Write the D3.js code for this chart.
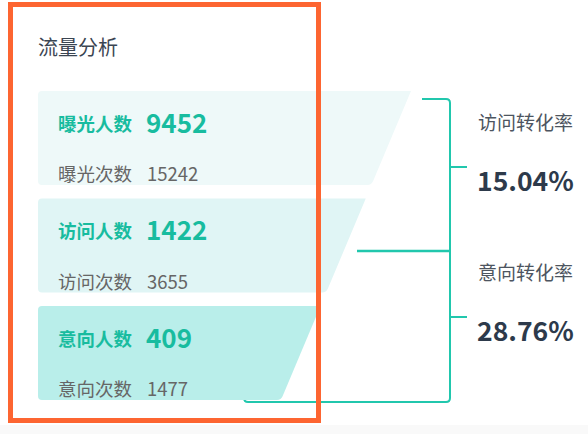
<!DOCTYPE html>
<html>
<head>
<meta charset="utf-8">
<script src="https://cdn.jsdelivr.net/npm/d3@7"></script>
<style>
  html, body { margin: 0; padding: 0; background: #fff; }
  svg { display: block; }
</style>
</head>
<body>
<div id="chart"></div>
<script>
'use strict';

// funnel stages
const stageLabels = ['曝光人数', '访问人数', '意向人数'];
const stageValues = [9452, 1422, 409];
const countLabels = ['曝光次数', '访问次数', '意向次数'];
const countValues = [15242, 3655, 1477];

// conversion between stages
const rateLabels = ['访问转化率', '意向转化率'];
const rateValues = [15.04, 28.76];

const title = '流量分析';

const width = 588;
const height = 434;
const font = '"Noto Sans CJK SC", "Noto Sans", sans-serif';
const teal = '#18bc9f';
const lineColor = '#21c7ad';
const bandColors = ['#eef9f9', '#e0f5f5', '#b9eeea'];

const svg = d3.select('#chart')
  .append('svg')
  .attr('width', width)
  .attr('height', height);

// faint floor at the bottom of the screenshot
svg.append('rect')
  .attr('x', 0).attr('y', 425)
  .attr('width', width).attr('height', height - 425)
  .attr('fill', '#f9f9f9');

const y = d3.scaleBand()
  .domain(d3.range(stageLabels.length))
  .range([91, 400])
  .paddingInner(0.1256);

// right edge of the funnel is one slanted line
const slant = d3.scaleLinear()
  .domain([91, 400])
  .range([411, 281]);

const left = 38;

/**
 * Path for one funnel band: rounded left corners, slanted right edge.
 */
function bandPath(i) {
  const top = y(i);
  const bot = top + y.bandwidth();
  const r = 4;
  const xt = slant(top);
  const xb = slant(bot);
  const k = (xt - xb) / (bot - top);
  const p = d3.path();
  p.moveTo(left + r, top);
  p.lineTo(xt, top);
  p.lineTo(xb + k * r, bot - r);
  p.quadraticCurveTo(xb, bot, xb - r, bot);
  p.lineTo(left + r, bot);
  p.quadraticCurveTo(left, bot, left, bot - r);
  p.lineTo(left, top + r);
  p.quadraticCurveTo(left, top, left + r, top);
  p.closePath();
  return p.toString();
}

// bracket lines joining the stages with their conversion rates
const bx = 450;
const tickEnd = 467;
const r = 4;
const brackets = [
  {y0: 99, y1: 251, tick: 167, x0: 422},
  {y0: 251, y1: 402, tick: 317, x0: 244}
];

const lines = svg.append('g')
  .attr('fill', 'none')
  .attr('stroke', lineColor)
  .attr('stroke-width', 2);

lines.append('path')
  .attr('d', `M${brackets[0].x0},${brackets[0].y0}H${bx - r}` +
    `Q${bx},${brackets[0].y0} ${bx},${brackets[0].y0 + r}V${brackets[0].y1}`);
lines.append('path')
  .attr('d', `M357,${brackets[0].y1}H${bx}`)
  .attr('stroke-width', 2.6);
lines.append('path')
  .attr('d', `M${bx},${brackets[1].y0}V${brackets[1].y1 - r}` +
    `Q${bx},${brackets[1].y1} ${bx - r},${brackets[1].y1}` +
    `H${brackets[1].x0 + r}Q${brackets[1].x0},${brackets[1].y1} ` +
    `${brackets[1].x0},${brackets[1].y1 - r}V390`);
brackets.forEach(b => {
  lines.append('path').attr('d', `M${bx},${b.tick}H${tickEnd}`);
});

// funnel bands
const bands = svg.selectAll('g.band')
  .data(stageLabels)
  .enter()
  .append('g')
  .attr('class', 'band');

bands.append('path')
  .attr('d', (d, i) => bandPath(i))
  .attr('fill', (d, i) => bandColors[i]);

bands.append('text')
  .attr('x', 58)
  .attr('y', (d, i) => y(i) + 31.5)
  .attr('dominant-baseline', 'central')
  .attr('font-family', font)
  .attr('font-size', '18.5px')
  .attr('font-weight', 'bold')
  .attr('fill', teal)
  .text(d => d);

bands.append('text')
  .attr('x', 146)
  .attr('y', (d, i) => y(i) + 30)
  .attr('dominant-baseline', 'central')
  .attr('font-family', font)
  .attr('font-size', '26px')
  .attr('font-weight', 'bold')
  .attr('fill', teal)
  .text((d, i) => stageValues[i]);

bands.append('text')
  .attr('x', 58)
  .attr('y', (d, i) => y(i) + 82)
  .attr('dominant-baseline', 'central')
  .attr('font-family', font)
  .attr('font-size', '18.5px')
  .attr('fill', '#666')
  .text((d, i) => countLabels[i]);

bands.append('text')
  .attr('x', 147)
  .attr('y', (d, i) => y(i) + 82)
  .attr('dominant-baseline', 'central')
  .attr('font-family', font)
  .attr('font-size', '18.5px')
  .attr('fill', '#666')
  .text((d, i) => countValues[i]);

// conversion rates on the right
const rates = svg.selectAll('g.rate')
  .data(rateLabels)
  .enter()
  .append('g')
  .attr('class', 'rate');

rates.append('text')
  .attr('x', 478)
  .attr('y', (d, i) => brackets[i].tick - 46)
  .attr('dominant-baseline', 'central')
  .attr('font-family', font)
  .attr('font-size', '19px')
  .attr('fill', '#4d5560')
  .text(d => d);

rates.append('text')
  .attr('x', 477)
  .attr('y', (d, i) => brackets[i].tick + 12)
  .attr('dominant-baseline', 'central')
  .attr('font-family', font)
  .attr('font-size', '26.5px')
  .attr('font-weight', 'bold')
  .attr('fill', '#2d3a4b')
  .text((d, i) => `${rateValues[i].toFixed(2)}%`);

svg.append('text')
  .attr('x', 38)
  .attr('y', 46.5)
  .attr('dominant-baseline', 'central')
  .attr('font-family', font)
  .attr('font-size', '20px')
  .attr('fill', '#3b4552')
  .text(title);

// highlight frame round the left panel
svg.append('rect')
  .attr('x', 10.5)
  .attr('y', 4.5)
  .attr('width', 308)
  .attr('height', 416)
  .attr('fill', 'none')
  .attr('stroke', '#fd6531')
  .attr('stroke-width', 5);
</script>
</body>
</html>
